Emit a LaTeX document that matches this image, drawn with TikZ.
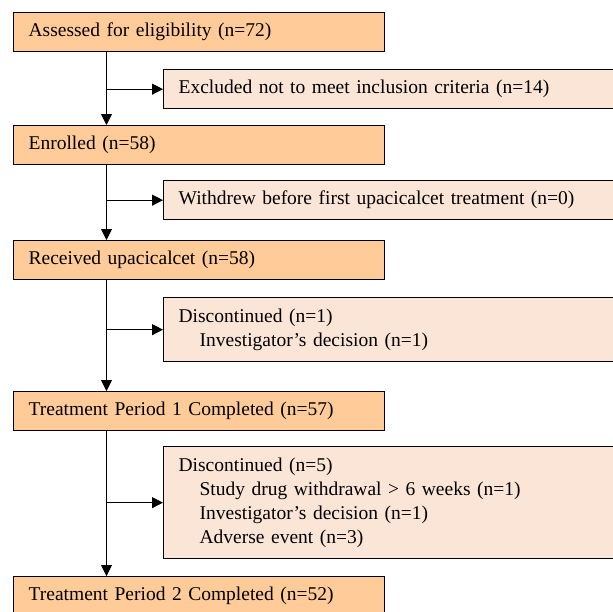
\documentclass[tikz,border=0pt]{standalone}
\usepackage{fontspec}
\setmainfont{Liberation Serif}
\usetikzlibrary{arrows.meta}
\definecolor{mainfill}{RGB}{255,204,153}
\definecolor{sidefill}{RGB}{251,229,214}
\tikzset{
  mainbox/.style={draw=black, line width=1.3pt, fill=mainfill, anchor=north west,
    inner xsep=15pt, inner ysep=0pt, align=left, text width=341pt,
    minimum height=39pt, font=\fontsize{19.5}{24}\selectfont},
  sidebox/.style={draw=black, line width=1.3pt, fill=sidefill, anchor=north west,
    inner xsep=15pt, inner ysep=0pt, align=left, text width=432pt,
    minimum height=#1, font=\fontsize{19.5}{24}\selectfont},
  arr/.style={line width=0.9pt, -{Triangle[length=11pt,width=11pt]}},
  ln/.style={line width=0.9pt}
}
\newcommand{\ind}{\hspace*{21pt}}
\begin{document}
\begin{tikzpicture}[x=1pt,y=-1pt]
\useasboundingbox (0,0) rectangle (613,611);
\clip (0,0) rectangle (613,611);
\fill[white] (0,0) rectangle (613,611);
\coordinate (spine) at (106.5,0);
\node[mainbox] (b1) at (13,12) {Assessed for eligibility (n=72)};
\node[sidebox=39pt] (e1) at (163,69) {Excluded not to meet inclusion criteria (n=14)};
\node[mainbox] (b2) at (13,125) {Enrolled (n=58)};
\node[sidebox=39pt] (e2) at (163,180) {Withdrew before first upacicalcet treatment (n=0)};
\node[mainbox] (b3) at (13,240) {Received upacicalcet (n=58)};
\node[sidebox=64pt] (e3) at (163,297) {Discontinued (n=1)\\ \ind Investigator’s decision (n=1)};
\node[mainbox] (b4) at (13,391) {Treatment Period 1 Completed (n=57)};
\node[sidebox=112pt] (e4) at (163,446) {Discontinued (n=5)\\ \ind Study drug withdrawal > 6 weeks (n=1)\\ \ind Investigator’s decision (n=1)\\ \ind Adverse event (n=3)};
\node[mainbox] (b5) at (13,576) {Treatment Period 2 Completed (n=52)};
\draw[arr] (b1.south -| spine) -- (b2.north -| spine);
\draw[arr] (b2.south -| spine) -- (b3.north -| spine);
\draw[arr] (b3.south -| spine) -- (b4.north -| spine);
\draw[arr] (b4.south -| spine) -- (b5.north -| spine);
\draw[arr] (e1.west -| spine) -- (e1.west);
\draw[arr] (e2.west -| spine) -- (e2.west);
\draw[arr] (e3.west -| spine) -- (e3.west);
\draw[arr] (e4.west -| spine) -- (e4.west);
\end{tikzpicture}
\end{document}
